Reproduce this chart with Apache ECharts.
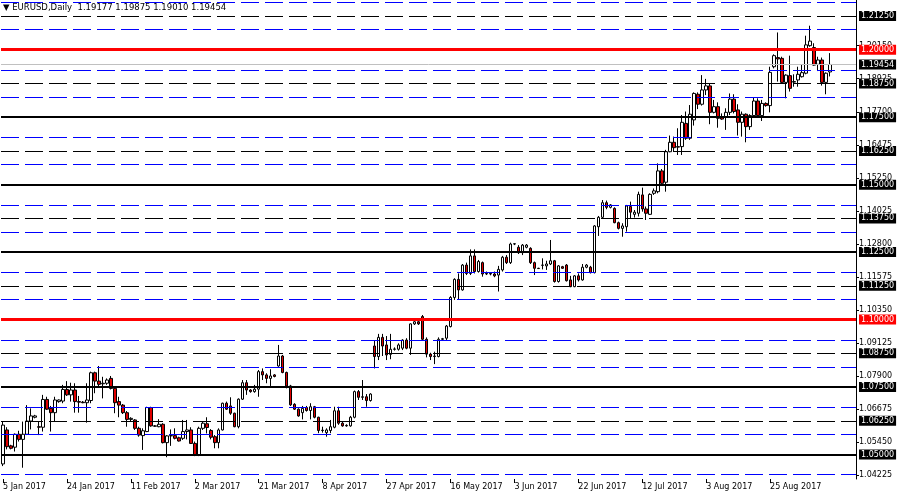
<!DOCTYPE html>
<html>
<head>
<meta charset="utf-8">
<script src="https://cdn.jsdelivr.net/npm/echarts@6/dist/echarts.min.js"></script>
<style>
html,body{margin:0;padding:0;background:#fff;}
#chart{width:900px;height:500px;}
</style>
</head>
<body>
<div id="chart"></div>
<script>
// ---- data (EURUSD daily) ----
const tickLabels = ['5 Jan 2017','24 Jan 2017','11 Feb 2017','2 Mar 2017','21 Mar 2017','8 Apr 2017','27 Apr 2017','16 May 2017','3 Jun 2017','22 Jun 2017','12 Jul 2017','3 Aug 2017','25 Aug 2017'];
const tickStep = 16;
const slotCount = 214;

const opens = [
1.0465,1.0591,1.0532,1.0527,1.0575,1.0556,1.0575,1.0624,1.0638,1.0603,
1.0601,1.0704,1.0671,1.0655,1.0696,1.0698,1.0741,1.0721,1.0739,1.0696,
1.0694,1.0692,1.0700,1.0803,1.0772,1.0762,1.0764,1.0782,1.0745,1.0696,
1.0683,1.0655,1.0630,1.0628,1.0597,1.0570,1.0585,1.0674,1.0606,1.0603,
1.0612,1.0544,1.0569,1.0570,1.0562,1.0560,1.0585,1.0591,1.0541,1.0498,
1.0597,1.0614,1.0589,1.0566,1.0544,1.0591,1.0690,1.0680,1.0653,1.0603,
1.0705,1.0766,1.0739,1.0733,1.0742,1.0807,1.0795,1.0782,1.0795,1.0828,
1.0865,1.0804,1.0754,1.0686,1.0668,1.0655,1.0674,1.0663,1.0677,1.0638,
1.0590,1.0581,1.0589,1.0601,1.0662,1.0616,1.0606,1.0606,1.0638,1.0733,
1.0712,1.0714,1.0700,1.0902,1.0863,1.0934,1.0906,1.0871,1.0890,1.0890,
1.0894,1.0924,1.0894,1.0984,1.0992,1.1011,1.0927,1.0872,1.0863,1.0863,
1.0927,1.0931,1.0974,1.1082,1.1149,1.1110,1.1202,1.1171,1.1236,1.1178,
1.1211,1.1169,1.1171,1.1169,1.1165,1.1184,1.1231,1.1211,1.1280,1.1268,
1.1248,1.1268,1.1264,1.1211,1.1190,1.1201,1.1199,1.1206,1.1218,1.1141,
1.1196,1.1202,1.1147,1.1122,1.1162,1.1147,1.1194,1.1194,1.1174,1.1344,
1.1379,1.1433,1.1416,1.1412,1.1359,1.1338,1.1344,1.1419,1.1390,1.1394,
1.1462,1.1410,1.1390,1.1468,1.1474,1.1551,1.1509,1.1622,1.1657,1.1639,
1.1641,1.1727,1.1672,1.1740,1.1835,1.1798,1.1851,1.1866,1.1768,1.1789,
1.1752,1.1752,1.1768,1.1817,1.1777,1.1731,1.1761,1.1715,1.1756,1.1810,
1.1756,1.1801,1.1793,1.1937,1.1971,1.1968,1.1879,1.1904,1.1880,1.1888,
1.1900,1.1913,1.2015,1.2008,1.1946,1.1962,1.1879,1.19177];

const highs = [
1.0622,1.0601,1.0536,1.0578,1.0588,1.0622,1.0683,1.0671,1.0647,1.0622,
1.0721,1.0714,1.0680,1.0714,1.0704,1.0758,1.0772,1.0766,1.0764,1.0717,
1.0698,1.0764,1.0807,1.0807,1.0828,1.0788,1.0782,1.0791,1.0751,1.0714,
1.0687,1.0661,1.0638,1.0631,1.0603,1.0597,1.0677,1.0677,1.0609,1.0631,
1.0616,1.0572,1.0593,1.0597,1.0566,1.0628,1.0628,1.0601,1.0548,1.0603,
1.0624,1.0638,1.0594,1.0572,1.0597,1.0692,1.0696,1.0712,1.0655,1.0708,
1.0776,1.0776,1.0742,1.0758,1.0813,1.0819,1.0801,1.0816,1.0798,1.0906,
1.0869,1.0807,1.0758,1.0690,1.0671,1.0680,1.0680,1.0690,1.0680,1.0640,
1.0603,1.0597,1.0628,1.0677,1.0677,1.0622,1.0612,1.0643,1.0737,1.0739,
1.0776,1.0724,1.0727,1.0924,1.0947,1.0947,1.0939,1.0947,1.0897,1.0912,
1.0927,1.0931,1.0986,1.1005,1.0998,1.1017,1.0934,1.0877,1.0881,1.0934,
1.0932,1.0980,1.1087,1.1153,1.1171,1.1206,1.1211,1.1260,1.1260,1.1221,
1.1215,1.1178,1.1174,1.1178,1.1199,1.1236,1.1239,1.1285,1.1283,1.1276,
1.1280,1.1280,1.1268,1.1215,1.1192,1.1227,1.1218,1.1295,1.1221,1.1202,
1.1199,1.1206,1.1162,1.1165,1.1171,1.1206,1.1206,1.1199,1.1350,1.1384,
1.1443,1.1441,1.1428,1.1416,1.1363,1.1357,1.1425,1.1437,1.1406,1.1474,
1.1489,1.1419,1.1468,1.1486,1.1579,1.1558,1.1629,1.1682,1.1678,1.1709,
1.1758,1.1771,1.1795,1.1842,1.1842,1.1906,1.1892,1.1876,1.1814,1.1805,
1.1764,1.1783,1.1838,1.1835,1.1798,1.1771,1.1764,1.1761,1.1822,1.1820,
1.1814,1.1805,1.1937,1.1983,1.2064,1.1974,1.1909,1.1978,1.1909,1.1937,
1.1946,1.2052,1.2089,1.2024,1.1974,1.1971,1.1916,1.19875];

const lows = [
1.0457,1.0519,1.0519,1.0511,1.0548,1.0451,1.0572,1.0593,1.0634,1.0572,
1.0585,1.0665,1.0585,1.0622,1.0692,1.0690,1.0717,1.0696,1.0655,1.0655,
1.0690,1.0618,1.0690,1.0727,1.0751,1.0708,1.0758,1.0741,1.0653,1.0638,
1.0650,1.0603,1.0624,1.0591,1.0566,1.0517,1.0583,1.0603,1.0603,1.0601,
1.0541,1.0490,1.0532,1.0556,1.0548,1.0554,1.0556,1.0539,1.0494,1.0494,
1.0591,1.0578,1.0556,1.0523,1.0523,1.0589,1.0665,1.0647,1.0601,1.0597,
1.0702,1.0721,1.0729,1.0729,1.0714,1.0776,1.0764,1.0754,1.0786,1.0825,
1.0801,1.0745,1.0680,1.0665,1.0640,1.0630,1.0659,1.0630,1.0634,1.0579,
1.0581,1.0566,1.0579,1.0597,1.0610,1.0603,1.0603,1.0603,1.0634,1.0702,
1.0702,1.0677,1.0696,1.0819,1.0850,1.0865,1.0850,1.0853,1.0885,1.0885,
1.0887,1.0890,1.0869,1.0980,1.0980,1.0924,1.0860,1.0850,1.0835,1.0860,
1.0924,1.0922,1.0971,1.1073,1.1073,1.1107,1.1165,1.1165,1.1171,1.1174,
1.1159,1.1165,1.1164,1.1157,1.1104,1.1178,1.1206,1.1206,1.1276,1.1243,
1.1239,1.1264,1.1206,1.1165,1.1188,1.1186,1.1184,1.1202,1.1137,1.1137,
1.1188,1.1141,1.1120,1.1120,1.1141,1.1144,1.1190,1.1171,1.1171,1.1310,
1.1375,1.1409,1.1412,1.1357,1.1334,1.1307,1.1326,1.1375,1.1378,1.1382,
1.1400,1.1369,1.1388,1.1462,1.1468,1.1499,1.1474,1.1620,1.1622,1.1610,
1.1610,1.1666,1.1666,1.1719,1.1780,1.1793,1.1832,1.1724,1.1764,1.1711,
1.1740,1.1703,1.1758,1.1764,1.1682,1.1678,1.1657,1.1703,1.1752,1.1752,
1.1736,1.1789,1.1768,1.1931,1.1882,1.1876,1.1820,1.1845,1.1863,1.1863,
1.1897,1.1909,1.2011,1.1941,1.1921,1.1867,1.1835,1.19010];

const closes = [
1.0609,1.0529,1.0523,1.0575,1.0556,1.0575,1.0624,1.0643,1.0643,1.0601,
1.0704,1.0668,1.0655,1.0702,1.0702,1.0741,1.0721,1.0739,1.0696,1.0694,
1.0692,1.0702,1.0803,1.0772,1.0760,1.0764,1.0776,1.0745,1.0692,1.0683,
1.0655,1.0630,1.0634,1.0597,1.0572,1.0588,1.0674,1.0606,1.0605,1.0612,
1.0544,1.0569,1.0570,1.0560,1.0550,1.0585,1.0591,1.0541,1.0498,1.0597,
1.0616,1.0600,1.0564,1.0544,1.0591,1.0690,1.0668,1.0653,1.0603,1.0705,
1.0766,1.0739,1.0733,1.0742,1.0807,1.0795,1.0782,1.0791,1.0789,1.0865,
1.0804,1.0754,1.0684,1.0668,1.0643,1.0671,1.0663,1.0677,1.0638,1.0589,
1.0589,1.0591,1.0603,1.0662,1.0616,1.0606,1.0608,1.0638,1.0733,1.0712,
1.0714,1.0700,1.0724,1.0863,1.0934,1.0902,1.0869,1.0890,1.0891,1.0906,
1.0924,1.0894,1.0984,1.0992,1.0984,1.0927,1.0872,1.0863,1.0865,1.0927,
1.0929,1.0976,1.1082,1.1149,1.1110,1.1202,1.1171,1.1236,1.1178,1.1215,
1.1169,1.1171,1.1169,1.1162,1.1186,1.1231,1.1211,1.1280,1.1281,1.1248,
1.1276,1.1276,1.1211,1.1190,1.1189,1.1202,1.1206,1.1218,1.1141,1.1199,
1.1190,1.1144,1.1122,1.1162,1.1147,1.1194,1.1202,1.1174,1.1347,1.1379,
1.1433,1.1416,1.1425,1.1359,1.1338,1.1347,1.1421,1.1398,1.1398,1.1464,
1.1410,1.1394,1.1464,1.1477,1.1551,1.1505,1.1622,1.1657,1.1637,1.1641,
1.1731,1.1672,1.1761,1.1838,1.1798,1.1851,1.1866,1.1768,1.1789,1.1746,
1.1743,1.1768,1.1817,1.1771,1.1731,1.1761,1.1715,1.1756,1.1810,1.1756,
1.1801,1.1793,1.1916,1.1978,1.1966,1.1879,1.1906,1.1857,1.1882,1.1909,
1.1915,1.2018,1.2032,1.1943,1.1962,1.1879,1.1913,1.19454];

// horizontal levels
const solidLevels = [1.0500, 1.0750, 1.1250, 1.1500, 1.1750];
const redLevels = [1.1000, 1.2000];
const dashBlackLevels = [1.0625, 1.0875, 1.1125, 1.1375, 1.1625, 1.1875, 1.2125];
const dashBlueLevels = [1.0425, 1.0575, 1.0675, 1.0825, 1.0925, 1.1075, 1.1175, 1.1325, 1.1425, 1.1575, 1.1675, 1.1825, 1.1925, 1.2075, 1.2175];
const bidLevel = 1.19454;
const gridLabelValues = [1.04225, 1.05450, 1.06675, 1.07900, 1.09125, 1.10350, 1.11575, 1.12800, 1.14025, 1.15250, 1.16475, 1.17700, 1.18925, 1.20150];
const titleText = 'EURUSD,Daily  1.19177 1.19875 1.19010 1.19454';

// ---- build ----
const FONT = 'DejaVu Sans';
const categories = Array.from({length: slotCount}, (_, i) => String(i));
const candles = opens.map((o, i) => [o, closes[i], lows[i], highs[i]]);

function boxLabel(bg, v) {
  return {
    show: true, position: 'end', distance: 3,
    formatter: v.toFixed(5),
    backgroundColor: bg, color: '#fff',
    fontFamily: FONT, fontSize: 8, lineHeight: 9,
    padding: [1, 2, 0, 2]
  };
}
const noLabel = {show: false};
const lineData = [];
dashBlueLevels.forEach(v => lineData.push({yAxis: v, lineStyle: {color: '#0000ff', width: 1, type: [18, 6]}, label: noLabel}));
dashBlackLevels.forEach(v => lineData.push({yAxis: v, lineStyle: {color: '#000', width: 1, type: [18, 6]}, label: boxLabel('#000', v)}));
solidLevels.forEach(v => lineData.push({yAxis: v, lineStyle: {color: '#000', width: 2, type: 'solid'}, label: boxLabel('#000', v)}));
lineData.push({yAxis: bidLevel, lineStyle: {color: '#c0c0c0', width: 1, type: 'solid'}, label: boxLabel('#000', bidLevel)});
redLevels.forEach(v => lineData.push({yAxis: v, lineStyle: {color: '#ff0000', width: 3, type: 'solid'}, label: boxLabel('#ff0000', v)}));

const tickFn = (i) => i % tickStep === 0 && (i / tickStep) < tickLabels.length;

const chart = echarts.init(document.getElementById('chart'), null, {renderer: 'canvas'});
chart.setOption({
  animation: false,
  backgroundColor: '#fff',
  textStyle: {fontFamily: FONT},
  grid: {left: 0, right: 44, top: 0, bottom: 21, containLabel: false},
  graphic: [
    {type: 'text', left: 3, top: 3, style: {text: '\u25BC ' + titleText, fontFamily: FONT, fontSize: 8.5, fill: '#000'}}
  ],
  xAxis: {
    type: 'category', data: categories, boundaryGap: true,
    axisLine: {show: false},
    axisTick: {show: true, alignWithLabel: true, interval: tickFn, length: 4, lineStyle: {color: '#000'}},
    axisLabel: {interval: tickFn, formatter: (v, i) => tickLabels[Math.round(Number(v) / tickStep)] || '',
      align: 'left', margin: 4, color: '#000', fontFamily: FONT, fontSize: 8},
    splitLine: {show: false}
  },
  yAxis: {
    type: 'value', position: 'right', min: 1.04092, max: 1.21843, scale: true,
    axisLine: {show: true, onZero: false, lineStyle: {color: '#000', width: 1}},
    axisTick: {show: true, length: 3, customValues: gridLabelValues, lineStyle: {color: '#000'}},
    axisLabel: {show: true, customValues: gridLabelValues, formatter: (v) => Number(v).toFixed(5),
      margin: 3, color: '#000', fontFamily: FONT, fontSize: 8},
    splitLine: {show: false}
  },
  series: [{
    type: 'candlestick',
    data: candles,
    barWidth: 3,
    itemStyle: {color: '#fff', color0: '#e00000', borderColor: '#000', borderColor0: '#000', borderWidth: 1},
    markLine: {
      silent: true, symbol: ['none', 'none'], animation: false, z: 5, precision: 5,
      data: lineData
    }
  }]
});
</script>
</body>
</html>
